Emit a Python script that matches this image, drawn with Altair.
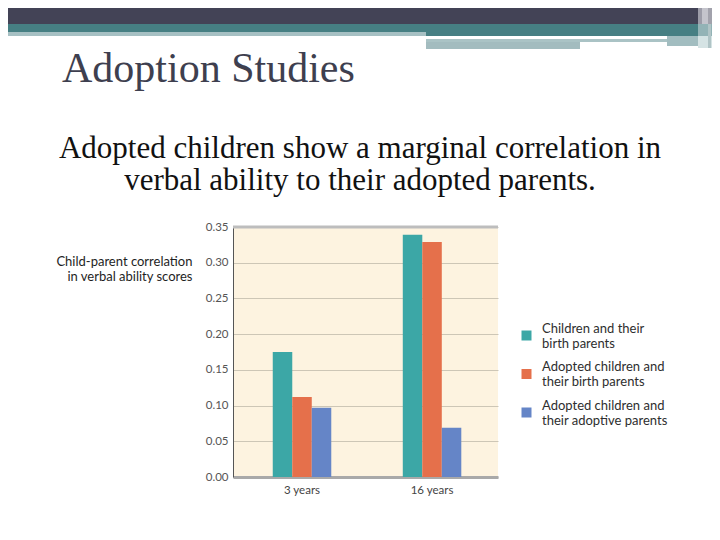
import altair as alt
import pandas as pd

# ---- data ----
ages = ["3 years", "16 years"]
series = [
    "Children and their\nbirth parents",
    "Adopted children and\ntheir birth parents",
    "Adopted children and\ntheir adoptive parents",
]
colors = ["#3ca7a6", "#e5704b", "#6585c7"]
values_3 = [0.175, 0.112, 0.097]
values_16 = [0.339, 0.329, 0.069]
y_ticks = [0.0, 0.05, 0.10, 0.15, 0.20, 0.25, 0.30, 0.35]

title_text = "Adoption Studies"
subtitle_text = "Adopted children show a marginal correlation in\nverbal ability to their adopted parents."
y_title = ["Child-parent correlation", "in verbal ability scores"]

rows = []
for s, v in zip(series, values_3):
    rows.append({"age": ages[0], "series": s, "value": v})
for s, v in zip(series, values_16):
    rows.append({"age": ages[1], "series": s, "value": v})
df = pd.DataFrame(rows)

W, H = 265, 250
PAD_L, PAD_T = 225, 219
CANVAS_W, CANVAS_H = 704, 524

one = pd.DataFrame({"k": [0]})


def band(x, x2, y, y2, color):
    return alt.Chart(one).mark_rect(color=color, strokeWidth=0).encode(
        x=alt.value(x), x2=alt.value(x2), y=alt.value(y), y2=alt.value(y2)
    )


RX = CANVAS_W - PAD_L  # right edge of canvas, relative to plot origin

deco = [
    band(-225, 465, -219, -203, "#434356"),
    band(-225, 193, -203, -195, "#467f83"),
    band(-225, 193, -195, -191, "#a6c0c3"),
    band(193, 465, -203, -191, "#467f83"),
    band(193, 434, -188, -185, "#aac3c5"),
    band(193, 347, -185, -178, "#a3bcbf"),
    band(434, 465, -191, -181, "#a2bdc0"),
    band(465, 469, -219, -203, "#9c9ca8"),
    band(469, 475, -219, -203, "#c4c4cc"),
    band(475, RX, -219, -203, "#a2a2ac"),
    band(465, RX, -203, -191, "#93b3b6"),
    band(465, RX, -191, -179, "#d5e3e4"),
    band(475, 478, -203, -179, "#b0c4c6"),
]

title = alt.Chart(pd.DataFrame({"t": [title_text]})).mark_text(
    align="left", baseline="alphabetic", font="Liberation Serif",
    fontSize=42, color="#3e3f4f"
).encode(x=alt.value(-171), y=alt.value(-145), text="t:N")

subtitle = alt.Chart(pd.DataFrame({"t": [subtitle_text]})).mark_text(
    align="center", baseline="alphabetic", font="Liberation Serif",
    fontSize=31, color="#111111", lineBreak="\n", lineHeight=32
).encode(x=alt.value(127), y=alt.value(-69), text="t:N")

top_line = alt.Chart(one).mark_rule(color="#bdbdbd", strokeWidth=3).encode(
    x=alt.value(0), x2=alt.value(W), y=alt.value(0)
)

bars = alt.Chart(df).mark_bar(strokeWidth=0).encode(
    x=alt.X(
        "age:N", sort=ages,
        scale=alt.Scale(paddingInner=0.55, paddingOuter=0.294, align=0.52),
        axis=alt.Axis(
            title=None, labelAngle=0, domainColor="#a9a9a9", domainWidth=3,
            ticks=False, labelColor="#444444", labelFontSize=11.5,
            labelPadding=7, labelFont="Lato",
        ),
    ),
    xOffset=alt.XOffset(
        "series:N", sort=series,
        scale=alt.Scale(paddingInner=0, paddingOuter=0),
    ),
    y=alt.Y(
        "value:Q",
        scale=alt.Scale(domain=[0, 0.35], nice=False),
        axis=alt.Axis(
            values=y_ticks, format=".2f", title=y_title, titleAngle=0,
            titleAlign="right", titleBaseline="top", titleX=-41, titleY=28,
            titleFont="Lato", titleFontSize=13, titleFontWeight="normal",
            titleColor="#1e1e1e", titleLineHeight=15,
            domainColor="#555555", domainWidth=1, ticks=False,
            gridColor="#cdc6b6", gridWidth=1,
            labelColor="#555555", labelFontSize=11.5, labelFont="Lato",
            labelPadding=5,
        ),
    ),
    color=alt.Color(
        "series:N", sort=series,
        scale=alt.Scale(domain=series, range=colors),
        legend=alt.Legend(
            title=None, orient="none", legendX=287, legendY=102,
            symbolType="square", symbolSize=100, symbolStrokeWidth=0,
            labelFont="Lato", labelFontSize=13, labelColor="#2e2e2e",
            labelOffset=9, labelLimit=300, rowPadding=9.5, padding=0,
            labelBaseline="bottom",
            labelExpr="split(datum.label, '\\n')",
        ),
    ),
)

chart = alt.layer(*deco, title, subtitle, bars, top_line).properties(
    width=W, height=H,
    autosize=alt.AutoSizeParams(type="none"),
    padding={"left": PAD_L, "top": PAD_T,
             "right": CANVAS_W - PAD_L - W, "bottom": CANVAS_H - PAD_T - H},
    background="white",
).configure_view(fill="#fdf3e0", strokeWidth=0)

chart.save("out.html", embed_options={"renderer": "svg", "actions": False})
